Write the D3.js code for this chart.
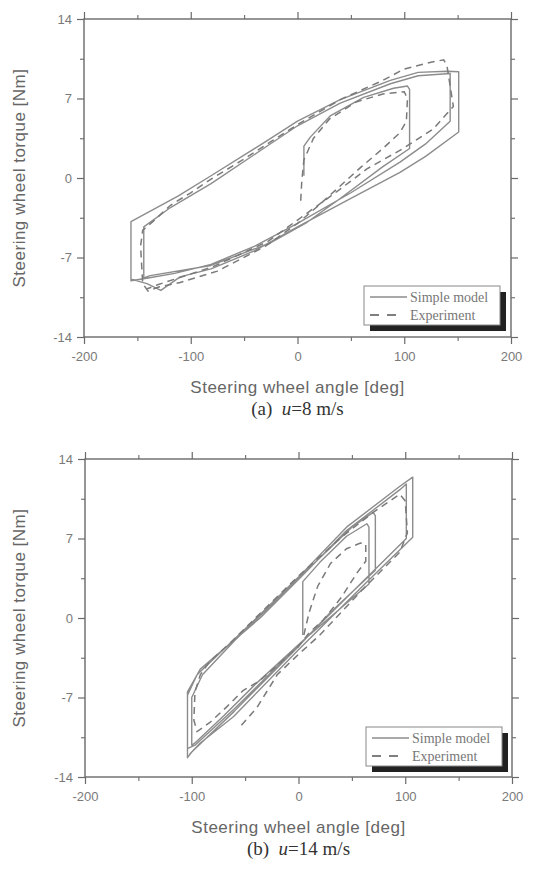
<!DOCTYPE html>
<html>
<head>
<meta charset="utf-8">
<script src="https://cdn.jsdelivr.net/npm/d3@7"></script>
<style>
  body { margin: 0; background: #fff; }
  svg { display: block; }
  .tick-label { font-family: "Liberation Sans", Arial, sans-serif; font-size: 13px; fill: #7a7a7a; }
  .axis-title { font-family: "Liberation Sans", Arial, sans-serif; font-size: 17px; fill: #666; letter-spacing: 0.5px; }
  .caption { font-family: "Liberation Serif", "Times New Roman", serif; font-size: 19px; fill: #333; }
  .legend-text { font-family: "Liberation Serif", "Times New Roman", serif; font-size: 14px; fill: #777; }
</style>
</head>
<body>
<svg id="chart" width="534" height="869"></svg>
<script>
// axis ticks
let xMajorTicks = [-200, -100, 0, 100, 200];
let xMinorTicks = [-150, -50, 50, 150];
let yMajorTicks = [-14, -7, 0, 7, 14];
let yMinorTicks = [-10.5, -3.5, 3.5, 10.5];

let legendLabels = ["Simple model", "Experiment"];
let captions = [["(a)", "u", "=8 m/s"], ["(b)", "u", "=14 m/s"]];

// (a) u = 8 m/s, [angle deg, torque Nm]
let simpleModelA = [
    [6, 0.2], [6, 2.8], [12, 3.6], [31, 5.5], [62, 7.1], [90, 7.9], [103, 8.1], [105, 7.8],
    [105, 2.6], [80, 1.0], [40, -1.8], [9, -3.9], [-25, -5.7], [-81, -7.7], [-138, -8.6], [-144, -8.8],
    [-144, -4.3], [-119, -2.6], [-81, -0.5], [-35, 2.4], [0, 4.6], [40, 6.6], [87, 8.3], [113, 9.0], [143, 9.2],
    [143, 5.0], [120, 3.0], [96, 1.4], [50, -1.3], [0, -4.0], [-40, -6.0], [-81, -7.6], [-115, -8.4], [-140, -8.8], [-156, -9.05],
    [-156, -3.85], [-112, -1.6], [-81, 0.2], [-35, 2.9], [0, 5.0], [40, 6.9], [87, 8.6], [113, 9.3], [140, 9.4], [151, 9.35],
    [151, 4.05], [120, 1.9], [96, 0.5], [50, -1.8], [0, -4.3], [-40, -6.4], [-81, -8.0], [-110, -8.7], [-128, -9.9], [-141, -9.3], [-156, -8.9]
];
let experimentA = [
    [3, -2.0], [4, -0.3], [6, 1.6], [15, 3.5], [30, 5.2], [55, 6.7], [80, 7.4], [100, 7.6], [103, 7.0],
    [102, 5.0], [96, 4.0], [80, 2.6], [60, 1.0], [40, -0.7], [20, -2.4], [0, -4.0], [-30, -6.0], [-75, -8.2],
    [-110, -9.2], [-130, -9.6], [-140, -9.95], [-145, -9.3], [-147, -6.0], [-145, -4.6], [-135, -3.8], [-119, -2.4],
    [-100, -1.3], [-81, -0.1], [-53, 1.5], [-25, 3.2], [0, 4.7], [40, 6.9], [80, 8.6], [100, 9.6], [125, 10.2],
    [137, 10.4], [140, 9.9], [146, 6.3], [127, 4.3], [99, 2.6], [65, 0.8], [34, -1.4], [0, -3.7], [-28, -5.6],
    [-79, -7.8], [-131, -9.4], [-142, -9.8]
];

// (b) u = 14 m/s
let simpleModelB = [
    [4, -1.5], [4, 3.2], [20, 4.9], [45, 7.2], [64, 8.3], [66, 8.0], [66, 3.0], [40, 0.9], [4, -2.0],
    [-40, -5.8], [-70, -8.6], [-97, -11.0], [-100, -11.2], [-100, -7.0], [-90, -5.0], [-60, -2.0], [0, 3.5],
    [50, 8.0], [70, 9.3], [72, 9.0], [72, 4.2], [30, 0.5], [0, -2.5], [-60, -8.2], [-100, -11.8], [-104, -12.3],
    [-104, -6.5], [-92, -4.5], [-36, 0.0], [0, 3.4], [45, 7.7], [95, 11.3], [101, 11.8], [101, 7.0], [60, 3.2],
    [0, -2.4], [-60, -8.0], [-97, -11.2], [-104, -11.5], [-104, -6.8], [-95, -5.0], [-36, 0.3], [0, 3.6],
    [45, 8.0], [95, 11.6], [107, 12.4], [107, 7.1], [60, 2.8], [0, -2.8], [-61, -8.7], [-92, -11.0], [-102, -12.0]
];
let experimentB = [
    [5, -1.5], [10, 0.5], [18, 2.8], [30, 4.8], [45, 6.1], [58, 6.6], [63, 6.5], [63, 5.0], [55, 4.0],
    [40, 1.8], [23, -0.2], [10, -1.3], [0, -2.5], [-20, -4.2], [-36, -5.5], [-52, -6.4], [-67, -7.8],
    [-83, -9.2], [-95, -10.0], [-98, -9.0], [-97, -6.5], [-92, -5.0], [-83, -3.8], [-64, -2.2], [-36, 0.4],
    [0, 3.7], [40, 7.1], [70, 9.3], [95, 10.9], [100, 10.3], [102, 7.5], [95, 5.8], [60, 2.5], [20, -1.5],
    [0, -3.2], [-20, -5.0], [-39, -7.9], [-55, -9.6]
];

let panels = [
    {simple: simpleModelA, experiment: experimentA, left: 84, right: 511, top: 19, bottom: 337,
     legend: {x: 364, y: 286}, caption: captions[0]},
    {simple: simpleModelB, experiment: experimentB, left: 85, right: 512, top: 459, bottom: 777,
     legend: {x: 366, y: 727}, caption: captions[1]}
];

let svg = d3.select("#chart");
let axisColor = "#6a6a6a";
let lineColor = "#8c8c8c";
let plainNumber = function(d) { return String(d); };

panels.forEach(function(p) {
    let x = d3.scaleLinear().domain([-200, 200]).range([p.left, p.right]);
    let y = d3.scaleLinear().domain([-14, 14]).range([p.bottom, p.top]);
    let g = svg.append("g");

    // frame
    g.append("rect")
        .attr("x", p.left).attr("y", p.top)
        .attr("width", p.right - p.left).attr("height", p.bottom - p.top)
        .attr("fill", "none").attr("stroke", axisColor).attr("stroke-width", 1.4);

    // ticks outside on all four sides
    let bottomAxis = d3.axisBottom(x).tickValues(xMajorTicks).tickSize(7).tickPadding(8).tickFormat(plainNumber);
    let topAxis = d3.axisTop(x).tickValues(xMajorTicks).tickSize(7).tickFormat("");
    let leftAxis = d3.axisLeft(y).tickValues(yMajorTicks).tickSize(7).tickPadding(5).tickFormat(plainNumber);
    let rightAxis = d3.axisRight(y).tickValues(yMajorTicks).tickSize(7).tickFormat("");

    let axes = [
        [bottomAxis, "translate(0," + p.bottom + ")"],
        [topAxis, "translate(0," + p.top + ")"],
        [leftAxis, "translate(" + p.left + ",0)"],
        [rightAxis, "translate(" + p.right + ",0)"]
    ];
    axes.forEach(function(a) {
        let ax = g.append("g").attr("transform", a[1]).call(a[0]);
        ax.select(".domain").remove();
        ax.selectAll("line").attr("stroke", axisColor).attr("stroke-width", 1.2);
        ax.selectAll("text").attr("class", "tick-label").attr("font-size", null).attr("font-family", null).attr("fill", null);
    });

    // minor ticks
    let minors = [
        [d3.axisBottom(x), "translate(0," + p.bottom + ")", xMinorTicks],
        [d3.axisTop(x), "translate(0," + p.top + ")", xMinorTicks],
        [d3.axisLeft(y), "translate(" + p.left + ",0)", yMinorTicks],
        [d3.axisRight(y), "translate(" + p.right + ",0)", yMinorTicks]
    ];
    minors.forEach(function(m) {
        let ax = g.append("g").attr("transform", m[1])
            .call(m[0].tickValues(m[2]).tickSize(4).tickFormat(""));
        ax.select(".domain").remove();
        ax.selectAll("line").attr("stroke", axisColor).attr("stroke-width", 1.1);
    });

    let line = d3.line()
        .x(function(d) { return x(d[0]); })
        .y(function(d) { return y(d[1]); })
        .curve(d3.curveLinear);

    g.append("path")
        .datum(p.simple)
        .attr("d", line)
        .attr("fill", "none").attr("stroke", lineColor)
        .attr("stroke-width", 1.4).attr("stroke-linejoin", "round");

    g.append("path")
        .datum(p.experiment)
        .attr("d", line)
        .attr("fill", "none").attr("stroke", "#7a7a7a")
        .attr("stroke-width", 1.5).attr("stroke-dasharray", "7,5");

    // legend with drop shadow
    let lg = g.append("g").attr("transform", "translate(" + p.legend.x + "," + p.legend.y + ")");
    lg.append("rect").attr("x", 6).attr("y", 6).attr("width", 136).attr("height", 39).attr("fill", "#222");
    lg.append("rect").attr("x", 0).attr("y", 0).attr("width", 136).attr("height", 39)
        .attr("fill", "#fff").attr("stroke", "#888").attr("stroke-width", 1);
    lg.append("line").attr("x1", 6).attr("x2", 43).attr("y1", 11).attr("y2", 11)
        .attr("stroke", lineColor).attr("stroke-width", 1.3);
    lg.append("line").attr("x1", 6).attr("x2", 40).attr("y1", 29).attr("y2", 29)
        .attr("stroke", "#555").attr("stroke-width", 1.6).attr("stroke-dasharray", "9,8");
    lg.append("text").attr("class", "legend-text").attr("x", 46).attr("y", 16).text(legendLabels[0]);
    lg.append("text").attr("class", "legend-text").attr("x", 46).attr("y", 34).text(legendLabels[1]);

    // axis titles
    g.append("text").attr("class", "axis-title")
        .attr("x", x(0)).attr("y", p.bottom + 56)
        .attr("text-anchor", "middle")
        .text("Steering wheel angle [deg]");
    g.append("text").attr("class", "axis-title")
        .attr("transform", "translate(25," + y(0) + ") rotate(-90)")
        .attr("text-anchor", "middle")
        .text("Steering wheel torque [Nm]");

    // caption
    let cap = g.append("text").attr("class", "caption")
        .attr("x", x(0)).attr("y", p.bottom + 78)
        .attr("text-anchor", "middle");
    cap.append("tspan").text(p.caption[0] + "\u2002");
    cap.append("tspan").attr("font-style", "italic").text(p.caption[1]);
    cap.append("tspan").text(p.caption[2]);
});
</script>
</body>
</html>
